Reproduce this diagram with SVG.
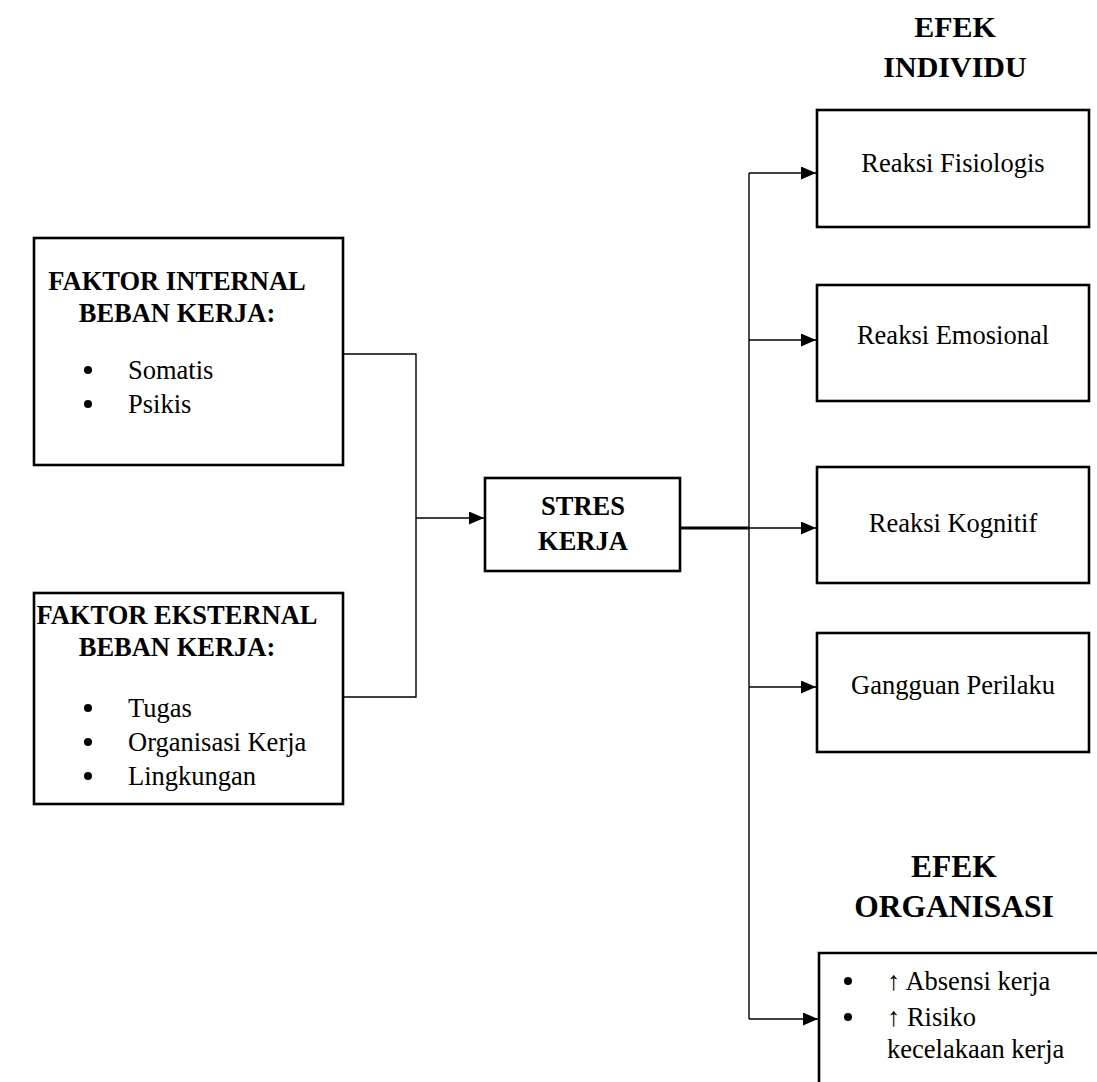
<svg xmlns="http://www.w3.org/2000/svg" width="1097" height="1082" viewBox="0 0 1097 1082">
<style>
.box{fill:#fff;stroke:#000;stroke-width:2.6}
.t{font-family:"Liberation Serif","Times New Roman",serif;font-size:26.5px;fill:#000}
.b{font-weight:bold}
.h{font-family:"Liberation Serif","Times New Roman",serif;font-size:30px;font-weight:bold;fill:#000;text-anchor:middle}
.c{text-anchor:middle}
.ln{fill:none;stroke:#000;stroke-width:1.4}
</style>
<defs>
<marker id="ar" viewBox="0 0 15 13" refX="15" refY="6.5" markerWidth="15" markerHeight="13" markerUnits="userSpaceOnUse" orient="auto">
<path d="M0,0 L15,6.5 L0,13 Z" fill="#000"/>
</marker>
</defs>
<g id="connectors">
<path class="ln" d="M343,354 H416 V697 H343"/>
<path class="ln" d="M416,518 H484" marker-end="url(#ar)"/>
<path fill="none" stroke="#000" stroke-width="3" d="M680,528 H749"/>
<path class="ln" d="M749,173 V1019"/>
<path class="ln" d="M749,173 H816" marker-end="url(#ar)"/>
<path class="ln" d="M749,340 H816" marker-end="url(#ar)"/>
<path class="ln" d="M749,528 H816" marker-end="url(#ar)"/>
<path class="ln" d="M749,687 H816" marker-end="url(#ar)"/>
<path class="ln" d="M749,1019 H818" marker-end="url(#ar)"/>
</g>
<g id="internal">
<rect class="box" x="34" y="238" width="309" height="227"/>
<text class="t b c" x="177" y="290">FAKTOR INTERNAL</text>
<text class="t b c" x="177" y="322">BEBAN KERJA:</text>
<circle cx="88" cy="370" r="4"/>
<text class="t" x="128" y="379">Somatis</text>
<circle cx="88" cy="404" r="4"/>
<text class="t" x="128" y="413">Psikis</text>
</g>
<g id="external">
<rect class="box" x="34" y="593" width="309" height="211"/>
<text class="t b c" x="177" y="624">FAKTOR EKSTERNAL</text>
<text class="t b c" x="177" y="656">BEBAN KERJA:</text>
<circle cx="88" cy="708" r="4"/>
<text class="t" x="128" y="717">Tugas</text>
<circle cx="88" cy="742" r="4"/>
<text class="t" x="128" y="751">Organisasi Kerja</text>
<circle cx="88" cy="776" r="4"/>
<text class="t" x="128" y="785">Lingkungan</text>
</g>
<g id="stres">
<rect class="box" x="485" y="478" width="195" height="93"/>
<text class="t b c" x="583" y="515">STRES</text>
<text class="t b c" x="583" y="550">KERJA</text>
</g>
<g id="efek-individu">
<text class="h" x="955" y="37">EFEK</text>
<text class="h" x="955" y="77">INDIVIDU</text>
</g>
<g id="fisiologis">
<rect class="box" x="817" y="110" width="272" height="117"/>
<text class="t c" x="953" y="172">Reaksi Fisiologis</text>
</g>
<g id="emosional">
<rect class="box" x="817" y="285" width="272" height="116"/>
<text class="t c" x="953" y="344">Reaksi Emosional</text>
</g>
<g id="kognitif">
<rect class="box" x="817" y="467" width="272" height="116"/>
<text class="t c" x="953" y="532">Reaksi Kognitif</text>
</g>
<g id="perilaku">
<rect class="box" x="817" y="633" width="272" height="119"/>
<text class="t c" x="953" y="694">Gangguan Perilaku</text>
</g>
<g id="efek-organisasi">
<text class="h" x="954" y="877" style="font-size:31.5px">EFEK</text>
<text class="h" x="954" y="917" style="font-size:31.5px">ORGANISASI</text>
</g>
<g id="organisasi">
<path fill="#fff" stroke="#000" stroke-width="2.6" d="M1097,953 H819 V1082"/>
<circle cx="848" cy="981" r="4"/>
<text class="t" x="887" y="990">↑ Absensi kerja</text>
<circle cx="848" cy="1017" r="4"/>
<text class="t" x="887" y="1026">↑ Risiko</text>
<text class="t" x="887" y="1058">kecelakaan kerja</text>
</g>
</svg>
